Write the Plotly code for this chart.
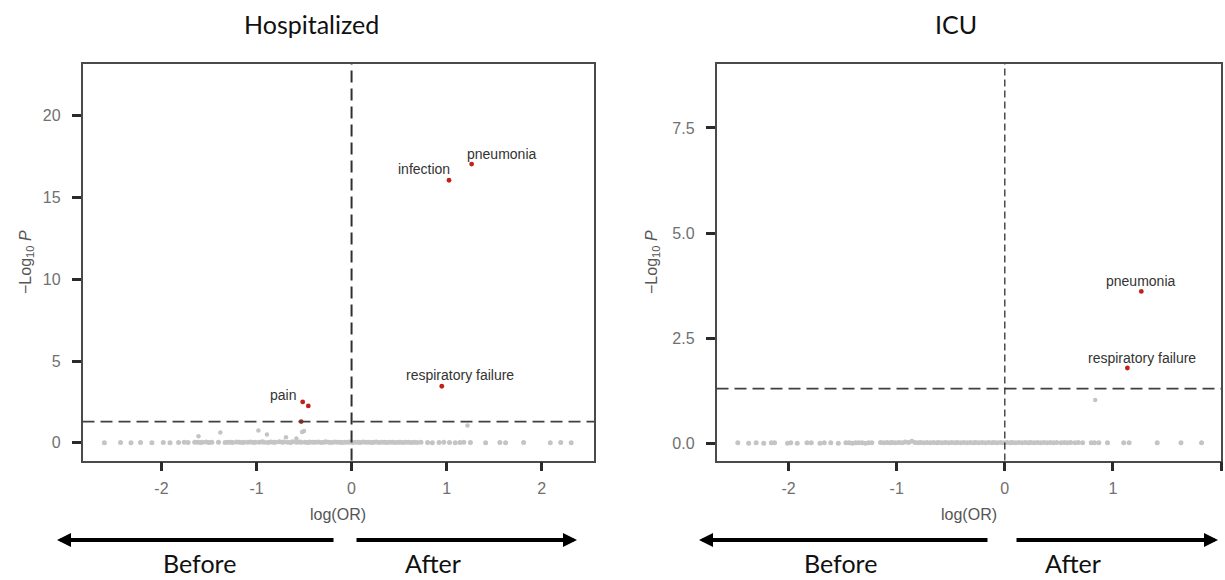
import plotly.graph_objects as go

# ---------------- data ----------------
# Hospitalized: non-significant (grey) points near zero
hosp_zero_x = [
    -2.60, -2.43, -2.32, -2.22, -2.10, -1.98, -1.91, -1.82, -1.76, -1.72,
    -1.65, -1.62, -1.59, -1.57, -1.53, -1.50, -1.47, -1.40, -1.33, -1.30,
    -1.27, -1.25, -1.21, -1.18, -1.15, -1.13, -1.09, -1.06, -1.03, -1.01,
    -0.97, -0.94, -0.92, -0.88, -0.85, -0.82, -0.80, -0.76, -0.73, -0.71,
    -0.67, -0.64, -0.62, -0.58, -0.55, -0.53, -0.49, -0.46, -0.44, -0.41,
    -0.38, -0.35, -0.32, -0.29, -0.27, -0.24, -0.21, -0.18, -0.15, -0.12,
    -0.10, -0.07, -0.04, -0.02, 0.01, 0.04, 0.07, 0.09, 0.12, 0.15,
    0.18, 0.21, 0.23, 0.26, 0.29, 0.32, 0.35, 0.37, 0.40, 0.43,
    0.46, 0.49, 0.51, 0.54, 0.57, 0.60, 0.63, 0.66, 0.69, 0.73,
    0.80, 0.85, 0.92, 0.97, 1.03, 1.09, 1.14, 1.18, 1.25, 1.41,
    1.56, 1.62, 1.81, 2.09, 2.20, 2.31,
]
hosp_zero_y = [
    0.01, 0.02, 0.01, 0.02, 0.01, 0.02, 0.01, 0.02, 0.03, 0.02,
    0.03, 0.04, 0.02, 0.03, 0.05, 0.02, 0.03, 0.04, 0.02, 0.03,
    0.04, 0.02, 0.05, 0.03, 0.02, 0.04, 0.03, 0.05, 0.02, 0.04,
    0.03, 0.06, 0.04, 0.02, 0.05, 0.03, 0.04, 0.06, 0.03, 0.05,
    0.04, 0.02, 0.06, 0.03, 0.05, 0.04, 0.03, 0.02, 0.05, 0.04,
    0.03, 0.05, 0.02, 0.04, 0.06, 0.03, 0.02, 0.05, 0.04, 0.03,
    0.02, 0.04, 0.03, 0.05, 0.02, 0.04, 0.03, 0.02, 0.05, 0.03,
    0.04, 0.02, 0.03, 0.05, 0.02, 0.04, 0.03, 0.02, 0.04, 0.03,
    0.02, 0.04, 0.03, 0.02, 0.03, 0.04, 0.02, 0.03, 0.02, 0.03,
    0.02, 0.01, 0.02, 0.03, 0.02, 0.01, 0.02, 0.03, 0.02, 0.01,
    0.02, 0.01, 0.02, 0.01, 0.02, 0.01,
]
# Hospitalized: grey points slightly above zero
hosp_low_x = [-1.61, -1.38, -0.98, -0.89, -0.69, -0.58, -0.52, -0.50, 1.22]
hosp_low_y = [0.40, 0.63, 0.75, 0.51, 0.34, 0.26, 0.66, 0.72, 1.06]
# Hospitalized: significant (red) points
hosp_sig_x = [1.263, 1.025, 0.949, -0.514, -0.455, -0.53]
hosp_sig_y = [17.05, 16.06, 3.46, 2.50, 2.26, 1.30]
# Hospitalized: labels
hosp_lab_text = ["pneumonia", "infection", "respiratory failure", "pain"]
hosp_lab_x = [1.263, 1.025, 0.949, -0.514]
hosp_lab_y = [17.05, 16.06, 3.46, 2.50]

# ICU: grey points near zero
icu_zero_x = [
    -2.47, -2.37, -2.30, -2.23, -2.16, -2.13, -2.01, -1.98, -1.92, -1.83,
    -1.79, -1.71, -1.67, -1.61, -1.54, -1.47, -1.44, -1.41, -1.38, -1.35,
    -1.32, -1.29, -1.26, -1.23, -1.15, -1.12, -1.09, -1.06, -1.04, -1.01,
    -0.98, -0.95, -0.92, -0.89, -0.86, -0.83, -0.80, -0.78, -0.75, -0.72,
    -0.69, -0.66, -0.63, -0.61, -0.58, -0.55, -0.52, -0.49, -0.46, -0.44,
    -0.41, -0.38, -0.35, -0.32, -0.29, -0.27, -0.24, -0.21, -0.18, -0.15,
    -0.12, -0.10, -0.07, -0.04, -0.01, 0.02, 0.05, 0.07, 0.10, 0.13,
    0.16, 0.19, 0.22, 0.24, 0.27, 0.30, 0.33, 0.36, 0.39, 0.42,
    0.45, 0.48, 0.52, 0.55, 0.58, 0.61, 0.65, 0.68, 0.72, 0.80,
    0.83, 0.87, 0.95, 1.10, 1.15, 1.41, 1.63, 1.82,
]
icu_zero_y = [
    0.01, 0.00, 0.01, 0.00, 0.01, 0.01, 0.00, 0.01, 0.00, 0.01,
    0.01, 0.00, 0.01, 0.01, 0.00, 0.01, 0.01, 0.00, 0.01, 0.01,
    0.01, 0.00, 0.01, 0.01, 0.02, 0.01, 0.02, 0.01, 0.02, 0.01,
    0.02, 0.01, 0.03, 0.02, 0.05, 0.02, 0.01, 0.02, 0.01, 0.02,
    0.01, 0.02, 0.01, 0.02, 0.01, 0.02, 0.01, 0.02, 0.01, 0.02,
    0.01, 0.02, 0.01, 0.02, 0.01, 0.02, 0.01, 0.02, 0.01, 0.02,
    0.01, 0.02, 0.01, 0.02, 0.01, 0.02, 0.01, 0.02, 0.01, 0.02,
    0.01, 0.02, 0.01, 0.02, 0.01, 0.02, 0.01, 0.02, 0.01, 0.02,
    0.01, 0.02, 0.01, 0.02, 0.01, 0.02, 0.01, 0.02, 0.01, 0.01,
    0.01, 0.01, 0.01, 0.01, 0.01, 0.01, 0.01, 0.01,
]
icu_low_x = [0.836]
icu_low_y = [1.03]
icu_sig_x = [1.263, 1.134]
icu_sig_y = [3.61, 1.79]
icu_lab_text = ["pneumonia", "respiratory failure"]
icu_lab_x = [1.263, 1.134]
icu_lab_y = [3.61, 1.79]

threshold = 1.301  # -log10(0.05)
panel_titles = ["Hospitalized", "ICU"]
x_tickvals = [-2, -1, 0, 1, 2]
x_ticktext = ["-2", "-1", "0", "1", "2"]
hosp_y_tickvals = [0, 5, 10, 15, 20]
hosp_y_ticktext = ["0", "5", "10", "15", "20"]
icu_y_tickvals = [0, 2.5, 5, 7.5]
icu_y_ticktext = ["0.0", "2.5", "5.0", "7.5"]

# ---------------- styling / layout constants ----------------
W, H = 1225, 580
GREY = "#c4c4c4"
RED = "#c0221b"
hosp_lab_shift = [(30, 10), (-25, 11), (18, 11), (-20, 7)]
icu_lab_shift = [(-1, 10), (15, 10)]

def px(x):
    return x / W

def py(y):
    return 1 - y / H

fig = go.Figure()

def add_panel(xa, ya, zx, zy, lx, ly, sx, sy):
    fig.add_trace(go.Scatter(x=zx, y=zy, mode="markers", xaxis=xa, yaxis=ya,
                             marker=dict(size=5, color=GREY), hoverinfo="skip", showlegend=False))
    fig.add_trace(go.Scatter(x=lx, y=ly, mode="markers", xaxis=xa, yaxis=ya,
                             marker=dict(size=4.5, color=GREY), hoverinfo="skip", showlegend=False))
    fig.add_trace(go.Scatter(x=sx, y=sy, mode="markers", xaxis=xa, yaxis=ya,
                             marker=dict(size=4.8, color=RED), hoverinfo="skip", showlegend=False))

add_panel("x", "y", hosp_zero_x, hosp_zero_y, hosp_low_x, hosp_low_y, hosp_sig_x, hosp_sig_y)
add_panel("x2", "y2", icu_zero_x, icu_zero_y, icu_low_x, icu_low_y, icu_sig_x, icu_sig_y)

ydom = [py(460.5), py(64)]
axis_common = dict(showgrid=False, zeroline=False, showline=True, mirror=True,
                   linecolor="#4a4a4a", linewidth=1.5, ticks="outside", ticklen=9,
                   tickwidth=3, tickcolor="#2a2a2a",
                   tickfont=dict(family="Liberation Sans, Arial, sans-serif", size=16, color="#707070"))

fig.update_layout(
    width=W, height=H, margin=dict(l=0, r=0, t=0, b=0),
    paper_bgcolor="white", plot_bgcolor="white", showlegend=False,
    xaxis=dict(domain=[px(82.5), px(594)], range=[-2.83, 2.55], tickvals=x_tickvals,
               ticktext=x_ticktext, anchor="y", ticklabelstandoff=4, **axis_common),
    yaxis=dict(domain=ydom, range=[-1.08, 23.17], tickvals=hosp_y_tickvals,
               ticktext=hosp_y_ticktext, anchor="x", ticklabelstandoff=8, **axis_common),
    xaxis2=dict(domain=[px(716.5), px(1221)], range=[-2.667, 2.0], tickvals=x_tickvals,
                ticktext=x_ticktext, anchor="y2", ticklabelstandoff=4, **axis_common),
    yaxis2=dict(domain=ydom, range=[-0.41, 9.02], tickvals=icu_y_tickvals,
                ticktext=icu_y_ticktext, anchor="x2", ticklabelstandoff=8, **axis_common),
)

# reference lines
fig.add_shape(type="line", xref="x domain", yref="y", x0=0, x1=1, y0=threshold, y1=threshold,
              line=dict(color="#404040", width=1.8, dash="12px,6px"))
fig.add_shape(type="line", xref="x", yref="y domain", x0=0, x1=0, y0=0, y1=1,
              line=dict(color="#303030", width=2, dash="12px,6px"))
fig.add_shape(type="line", xref="x2 domain", yref="y2", x0=0, x1=1, y0=threshold, y1=threshold,
              line=dict(color="#404040", width=1.8, dash="12px,6px"))
fig.add_shape(type="line", xref="x2", yref="y2 domain", x0=0, x1=0, y0=0, y1=1,
              line=dict(color="#303030", width=1.3, dash="7px,4px"))

lab_font = dict(family="Liberation Sans, Arial, sans-serif", size=14, color="#333333")
for t, x, y, (dx, dy) in zip(hosp_lab_text, hosp_lab_x, hosp_lab_y, hosp_lab_shift):
    fig.add_annotation(x=x, y=y, xref="x", yref="y", text=t, showarrow=False,
                       xshift=dx, yshift=dy, font=lab_font)
for t, x, y, (dx, dy) in zip(icu_lab_text, icu_lab_x, icu_lab_y, icu_lab_shift):
    fig.add_annotation(x=x, y=y, xref="x2", yref="y2", text=t, showarrow=False,
                       xshift=dx, yshift=dy, font=lab_font)

big_font = dict(family="Lato, Carlito, sans-serif", size=25, color="#111111")
axis_title_font = dict(family="Liberation Sans, Arial, sans-serif", size=16, color="#555555")

panels = [
    dict(title_x=311, center=338, ytitle_x=26, before=200, after=433,
         left_tip=57, left_tail=335, right_tail=355, right_tip=577),
    dict(title_x=956, center=969, ytitle_x=652, before=840, after=1073,
         left_tip=699, left_tail=989, right_tail=1015, right_tip=1218),
]
for title, p in zip(panel_titles, panels):
    fig.add_annotation(x=px(p["title_x"]), y=py(24), xref="paper", yref="paper", text=title,
                       showarrow=False, font=big_font, xanchor="center", yanchor="middle")
    fig.add_annotation(x=px(p["center"]), y=py(514), xref="paper", yref="paper", text="log(OR)",
                       showarrow=False, font=axis_title_font, xanchor="center", yanchor="middle")
    fig.add_annotation(x=px(p["ytitle_x"]), y=py(262), xref="paper", yref="paper",
                       text="\u2212Log<sub>10</sub> <i>P</i>", textangle=-90,
                       showarrow=False, font=axis_title_font, xanchor="center", yanchor="middle")
    fig.add_annotation(x=px(p["before"]), y=py(563), xref="paper", yref="paper", text="Before",
                       showarrow=False, font=big_font, xanchor="center", yanchor="middle")
    fig.add_annotation(x=px(p["after"]), y=py(563), xref="paper", yref="paper", text="After",
                       showarrow=False, font=big_font, xanchor="center", yanchor="middle")
    # arrows
    fig.add_annotation(x=px(p["left_tip"]), y=py(540), xref="paper", yref="paper", text="",
                       showarrow=True, ax=p["left_tail"] - p["left_tip"], ay=0,
                       arrowhead=2, arrowsize=0.7, arrowwidth=4, arrowcolor="#000000", standoff=0)
    fig.add_annotation(x=px(p["right_tip"]), y=py(540), xref="paper", yref="paper", text="",
                       showarrow=True, ax=p["right_tail"] - p["right_tip"], ay=0,
                       arrowhead=2, arrowsize=0.7, arrowwidth=4, arrowcolor="#000000", standoff=0)

fig.write_html("out.html", config={"displayModeBar": False},
               post_script="document.body.style.margin='0px';")
